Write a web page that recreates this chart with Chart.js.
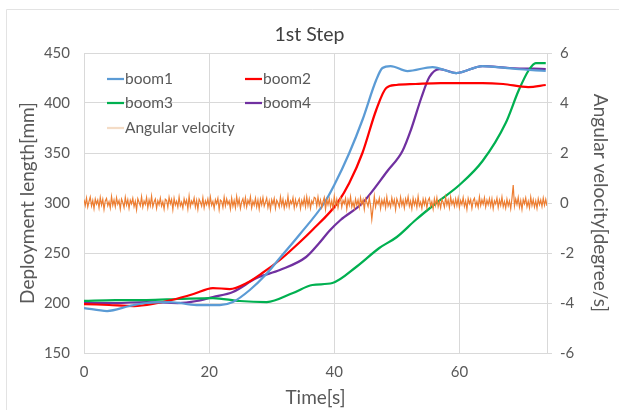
<!DOCTYPE html>
<html>
<head>
<meta charset="utf-8">
<script src="https://cdn.jsdelivr.net/npm/chart.js@4.4.1/dist/chart.umd.min.js"></script>
<style>
html,body{margin:0;padding:0;background:#fff;}
#wrap{position:relative;width:619px;height:410px;}
</style>
</head>
<body>
<div id="wrap"><canvas id="c" width="619" height="410"></canvas></div>
<script>
// ---- data ----
const chartTitle = "1st Step";
const xTitle = "Time[s]";
const yTitle = "Deployment length[mm]";
const y2Title = "Angular velocity[degree/s]";

const boom1T = [0,3.7,7.3,10,13.7,18,21.7,23.8,26.5,29,31.3,34.4,38.4,40,42.4,44.5,46.7,47.7,49,51.7,55.7,59.5,63.7,69,73.8];
const boom1V = [195,192,197,200,201,198,198,201,213,228,245,268,300,318,350,383,423,435,437,432,436,430,437,434,432];

const boom2T = [0,4,8,11,14,17.5,20.6,23.3,26,28.5,31.3,34,36.5,40.5,42.4,44.5,46.7,48.3,49.9,53,57,60,63.7,67,71,73.8];
const boom2V = [199,198,197,199,203,209,215,214,220,230,243,258,273,300,320,350,393,415,418,419,420,420,420,419,416,418];

const boom3T = [0,5,10,15,20.6,24.9,29.2,33.4,36.5,39.7,43.5,47.2,50,53,56.3,60,63.7,67.4,69.5,71.1,72.2,73.8];
const boom3V = [202,203,203,204,205,202,201,210,218,220,236,255,266,283,300,318,342,380,413,433,440,440];

const boom4T = [0,5,10,15,18,20.6,23.8,27.6,31.3,35.5,37.6,39.2,41,44.5,48.5,50.9,52.3,53.9,55.2,56.8,59.5,63.7,68,73.8];
const boom4V = [200,200,201,200,202,206,211,225,233,246,260,272,283,300,332,352,374,405,426,434,430,437,435,434];

// angular velocity samples (deg/s), one every angDt seconds starting at angT0
const angT0 = 0;
const angDt = 0.2;
const angV = [
0.14,-0.1,0.2,-0.16,0.06,0.24,-0.12,0.1,-0.22,0.16,-0.04,0.12,-0.19,0.22,-0.08,0.15,-0.25,0.08,0.18,-0.11,
0.05,-0.2,0.26,-0.09,0.12,-0.15,0.21,-0.05,0.1,-0.24,0.16,0.02,-0.18,0.23,-0.08,0.13,-0.21,0.11,-0.03,0.19,
-0.14,0.07,-0.27,0.17,0.03,-0.11,0.25,-0.16,0.08,-0.06,0.22,-0.19,0.12,-0.1,0.28,-0.15,0.04,0.16,-0.21,0.09,
-0.07,0.2,-0.12,0.05,-0.24,0.15,0.11,-0.17,0.23,-0.03,0.14,-0.26,0.19,-0.08,0.07,-0.16,0.24,-0.11,0.03,-0.2,
0.17,-0.05,0.12,-0.23,0.27,-0.14,0.08,-0.04,0.2,-0.16,0.11,-0.25,0.15,0.04,-0.12,0.21,-0.19,0.09,-0.07,0.16,
-0.15,0.24,-0.09,0.06,-0.21,0.13,-0.03,0.19,-0.26,0.12,0.07,-0.17,0.23,-0.11,0.16,-0.05,0.08,-0.24,0.2,-0.13,
0.1,-0.19,0.26,-0.08,0.15,-0.22,0.04,0.17,-0.12,0.21,-0.16,0.11,-0.04,0.25,-0.2,0.07,-0.09,0.19,-0.15,0.12,
-0.24,0.16,-0.07,0.22,-0.13,0.03,0.2,-0.17,0.08,-0.26,0.13,-0.05,0.18,-0.21,0.11,0.01,-0.16,0.24,-0.09,0.15,
-0.2,0.07,-0.12,0.27,-0.16,0.09,-0.03,0.21,-0.19,0.13,-0.13,0.05,0.17,-0.22,0.1,-0.08,0.2,-0.15,0.25,-0.11,
0.16,-0.21,0.08,-0.04,0.23,0.19,-0.13,0.24,-0.09,0.12,-0.17,0.05,0.22,-0.25,0.13,-0.07,0.17,-0.15,0.09,-0.21,
0.26,-0.11,0.15,-0.19,0.07,0.21,-0.16,0.1,-0.03,0.19,-0.24,0.13,-0.08,0.25,-0.15,0.04,-0.2,0.16,-0.09,0.12,
-0.17,0.22,-0.05,0.13,-0.25,0.17,0.03,-0.13,0.2,-0.11,-0.65,-0.2,0.27,-0.16,0.09,-0.04,0.19,-0.22,0.12,-0.08,
0.15,-0.19,0.24,-0.12,0.05,-0.16,0.21,-0.07,0.13,-0.26,0.17,0.01,-0.15,0.23,-0.09,0.11,-0.2,0.16,-0.04,0.25,
-0.13,0.08,-0.23,0.19,-0.08,0.12,-0.17,0.26,-0.11,0.04,-0.21,0.16,-0.07,0.15,-0.19,0.1,0.2,-0.12,0.05,-0.24,
0.17,-0.09,0.21,-0.15,0.07,-0.2,0.13,0.03,-0.16,0.23,-0.08,0.12,-0.19,0.24,-0.05,0.11,-0.14,0.16,-0.1,0.2,
-0.18,0.1,-0.06,0.22,-0.14,0.08,-0.25,0.18,-0.03,0.14,-0.21,0.09,0.19,-0.12,0.06,-0.17,0.25,-0.1,0.13,-0.05,
0.21,-0.16,0.11,-0.07,0.18,-0.13,0.17,-0.22,0.09,-0.04,0.2,-0.18,0.12,-0.09,0.24,-0.15,0.06,-0.2,0.15,-0.11,
0.08,-0.23,0.19,0.72,-0.12,0.16,-0.06,0.22,-0.17,0.1,-0.25,0.14,-0.03,0.2,-0.15,0.07,-0.19,0.24,-0.1,0.13,
-0.16,0.09,-0.21,0.17,-0.07,0.12,-0.14,0.2,-0.09,0.15,-0.12
];

const seriesNames = ["boom1","boom2","boom3","boom4","Angular velocity"];
const seriesColors = ["#5B9BD5","#FF0000","#00B050","#7030A0","#ED7D31"];
const legendColors = ["#5B9BD5","#FF0000","#00B050","#7030A0","#F4DCC6"];

const xMin = 0, xMax = 74, xStep = 20;
const yMin = 150, yMax = 450, yStep = 50;
const y2Min = -6, y2Max = 6, y2Step = 2;

// ---- build datasets ----
const pts = (t, v) => t.map((x, i) => ({x: x, y: v[i]}));
const angPts = angV.map((v, i) => ({x: angT0 + i * angDt, y: v}));

const FONT = "Lato, 'DejaVu Sans', sans-serif";
const TXT = "#595959";
const GRID = "#D9D9D9";

const boomDs = (i, t, v) => ({
  label: seriesNames[i], data: pts(t, v), yAxisID: 'y',
  borderColor: seriesColors[i], backgroundColor: seriesColors[i],
  borderWidth: 2.25, pointRadius: 0, cubicInterpolationMode: 'monotone', order: 2
});

const legendPlugin = {
  id: 'inLegend',
  afterDatasetsDraw(chart) {
    const ctx = chart.ctx;
    const pos = [[107,79],[245,79],[107,103],[245,103],[107,128]];
    ctx.save();
    ctx.font = "15.5px " + FONT;
    ctx.textBaseline = 'middle';
    ctx.textAlign = 'left';
    seriesNames.forEach((n, i) => {
      const [x, y] = pos[i];
      ctx.strokeStyle = legendColors[i];
      ctx.lineWidth = 2.25;
      ctx.beginPath(); ctx.moveTo(x, y); ctx.lineTo(x + 17, y); ctx.stroke();
      ctx.fillStyle = TXT;
      ctx.fillText(n, x + 18, y);
    });
    ctx.restore();
  }
};

const framePlugin = {
  id: 'frame',
  beforeDraw(chart) {
    const ctx = chart.ctx;
    ctx.save();
    ctx.fillStyle = '#fff';
    ctx.fillRect(0, 0, chart.width, chart.height);
    ctx.strokeStyle = '#E3E3E3';
    ctx.lineWidth = 1;
    ctx.beginPath();
    ctx.moveTo(6.5, 410); ctx.lineTo(6.5, 9.5); ctx.lineTo(619, 9.5);
    ctx.stroke();
    ctx.restore();
  }
};

new Chart(document.getElementById('c'), {
  type: 'line',
  data: {
    datasets: [
      {label: seriesNames[4], data: angPts, yAxisID: 'y2', borderColor: seriesColors[4],
       borderWidth: 1.2, pointRadius: 0, tension: 0, order: 1},
      boomDs(0, boom1T, boom1V),
      boomDs(1, boom2T, boom2V),
      boomDs(2, boom3T, boom3V),
      boomDs(3, boom4T, boom4V)
    ]
  },
  options: {
    responsive: false,
    animation: false,
    events: [],
    layout: {padding: 0},
    plugins: {
      legend: {display: false},
      tooltip: {enabled: false},
      title: {display: true, text: chartTitle, color: "#404040",
              font: {family: FONT, size: 19.5, weight: 'normal'}, padding: {top: 23, bottom: 6.6}}
    },
    scales: {
      x: {
        type: 'linear', min: xMin, max: xMax,
        afterBuildTicks(s) { s.ticks = s.ticks.filter(t => t.value % xStep === 0); },
        ticks: {stepSize: xStep, color: TXT, font: {family: FONT, size: 15}, padding: 10},
        grid: {color: GRID, drawTicks: false},
        border: {display: false},
        title: {display: true, text: xTitle, color: TXT, font: {family: FONT, size: 19}, padding: {top: 0, bottom: 0.6}},
        afterFit(s) { s.height = 57; }
      },
      y: {
        position: 'left', min: yMin, max: yMax,
        ticks: {stepSize: yStep, color: TXT, font: {family: FONT, size: 15}, padding: 14},
        grid: {color: GRID, drawTicks: false},
        border: {display: false},
        title: {display: true, text: yTitle, color: TXT, font: {family: FONT, size: 19}, padding: {top: 16.6, bottom: 0}},
        afterFit(s) { s.width = 84; }
      },
      y2: {
        position: 'right', min: y2Min, max: y2Max,
        ticks: {stepSize: y2Step, color: TXT, font: {family: FONT, size: 15}, padding: 8},
        grid: {drawOnChartArea: false, color: GRID, tickLength: 5},
        border: {display: true, color: GRID},
        title: {display: true, text: y2Title, color: TXT, font: {family: FONT, size: 19}, padding: {top: 7.6, bottom: 0}},
        afterFit(s) { s.width = 72; }
      }
    }
  },
  plugins: [framePlugin, legendPlugin]
});
</script>
</body>
</html>
